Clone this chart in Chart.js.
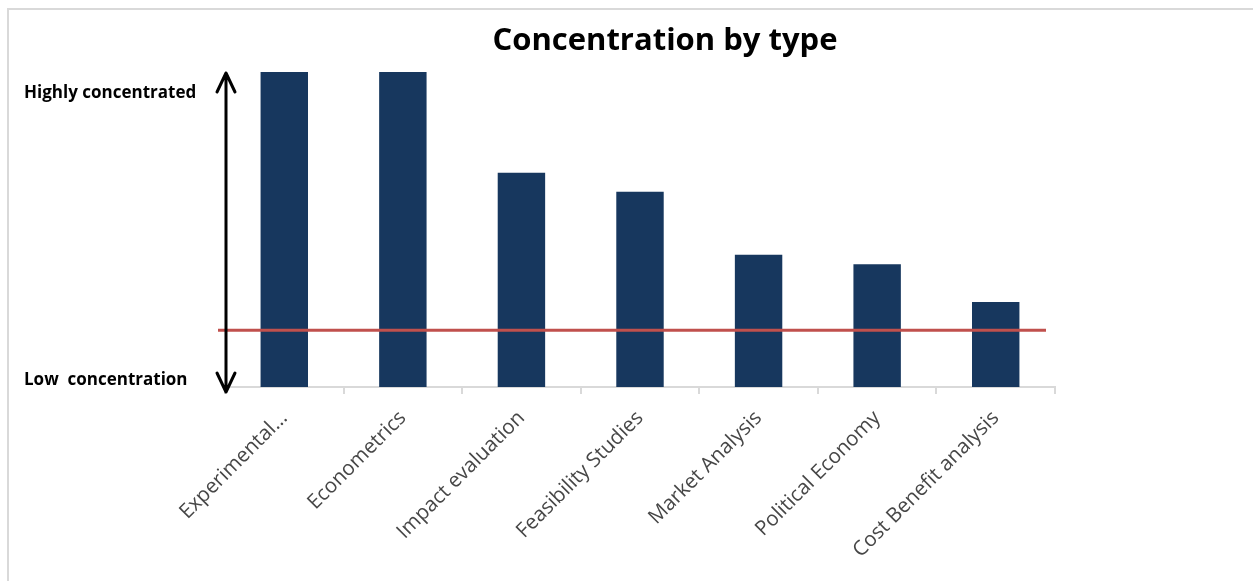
<!DOCTYPE html>
<html>
<head>
<meta charset="utf-8">
<script src="https://cdn.jsdelivr.net/npm/chart.js@4.4.1/dist/chart.umd.min.js"></script>
<style>
  html, body { margin: 0; padding: 0; background: #ffffff; }
  #wrap { position: relative; width: 1253px; height: 581px; overflow: hidden; }
  #frame { position: absolute; left: 7px; top: 8px; right: -4px; bottom: -4px;
           border-top: 2px solid #d9d9d9; border-left: 2px solid #d9d9d9; }
  canvas { position: absolute; left: 0; top: 0; }
</style>
</head>
<body>
<div id="wrap">
  <div id="frame"></div>
  <canvas id="chart" width="1253" height="581"></canvas>
</div>
<script>
// Research types, ordered from most to least concentrated
const categories = [
  'Experimental...',
  'Econometrics',
  'Impact evaluation',
  'Feasibility Studies',
  'Market Analysis',
  'Political Economy',
  'Cost Benefit analysis'
];
// Relative concentration score (0 = lowest, 100 = highest)
const concentration = [100, 100, 68, 62, 42, 39, 27];
// Reference threshold drawn across the bars
const thresholdValue = [18];
// Ends of the vertical scale arrow
const scaleEndLabels = ['Highly concentrated', 'Low  concentration'];
const chartTitle = 'Concentration by type';

const decorations = {
  id: 'decorations',
  afterDatasetsDraw(chart) {
    const { ctx, chartArea, scales } = chart;
    const y = scales.y;
    ctx.save();

    // threshold line
    const ty = y.getPixelForValue(thresholdValue[0]);
    ctx.strokeStyle = '#c0504d';
    ctx.lineWidth = 3;
    ctx.beginPath();
    ctx.moveTo(chartArea.left - 7, ty);
    ctx.lineTo(chartArea.right - 9, ty);
    ctx.stroke();

    // double-headed arrow spanning the scale
    const ax = chartArea.left + 1;
    const top = y.getPixelForValue(100) + 1;
    const bottom = y.getPixelForValue(0) + 5;
    ctx.strokeStyle = '#000000';
    ctx.lineWidth = 3;
    ctx.lineCap = 'round';
    ctx.lineJoin = 'round';
    ctx.beginPath();
    ctx.moveTo(ax, top);
    ctx.lineTo(ax, bottom);
    ctx.moveTo(ax - 9, top + 19);
    ctx.lineTo(ax, top);
    ctx.lineTo(ax + 9, top + 19);
    ctx.moveTo(ax - 9, bottom - 19);
    ctx.lineTo(ax, bottom);
    ctx.lineTo(ax + 9, bottom - 19);
    ctx.stroke();

    // end labels of the scale
    ctx.fillStyle = '#000000';
    ctx.font = 'bold 17px "Open Sans"';
    ctx.textAlign = 'left';
    ctx.textBaseline = 'middle';
    ctx.fillText(scaleEndLabels[0], 24, y.getPixelForValue(100) + 21);
    ctx.fillText(scaleEndLabels[1], 24, y.getPixelForValue(0) - 7);

    // title
    ctx.font = 'bold 31px "Open Sans"';
    ctx.textAlign = 'center';
    ctx.textBaseline = 'alphabetic';
    ctx.fillText(chartTitle, 665, 50);
    ctx.restore();
  }
};

new Chart(document.getElementById('chart'), {
  type: 'bar',
  data: {
    labels: categories,
    datasets: [{
      data: concentration,
      backgroundColor: '#17375e',
      borderWidth: 0,
      categoryPercentage: 0.8,
      barPercentage: 0.5
    }]
  },
  options: {
    responsive: false,
    animation: false,
    events: [],
    layout: { padding: { left: 225, right: 198, top: 72, bottom: 0 } },
    plugins: { legend: { display: false }, title: { display: false }, tooltip: { enabled: false } },
    scales: {
      x: {
        afterFit(scale) { scale.height = 194; },
        border: { display: true, color: '#d9d9d9', width: 2 },
        grid: { display: true, drawOnChartArea: false, color: '#d9d9d9', lineWidth: 2, tickLength: 7, offset: true },
        ticks: {
          color: '#474747',
          font: { family: '"Open Sans"', size: 20.5 },
          maxRotation: 45,
          minRotation: 45,
          padding: 12,
          autoSkip: false
        }
      },
      y: {
        display: false,
        min: 0,
        max: 100
      }
    }
  },
  plugins: [decorations]
});
</script>
</body>
</html>
